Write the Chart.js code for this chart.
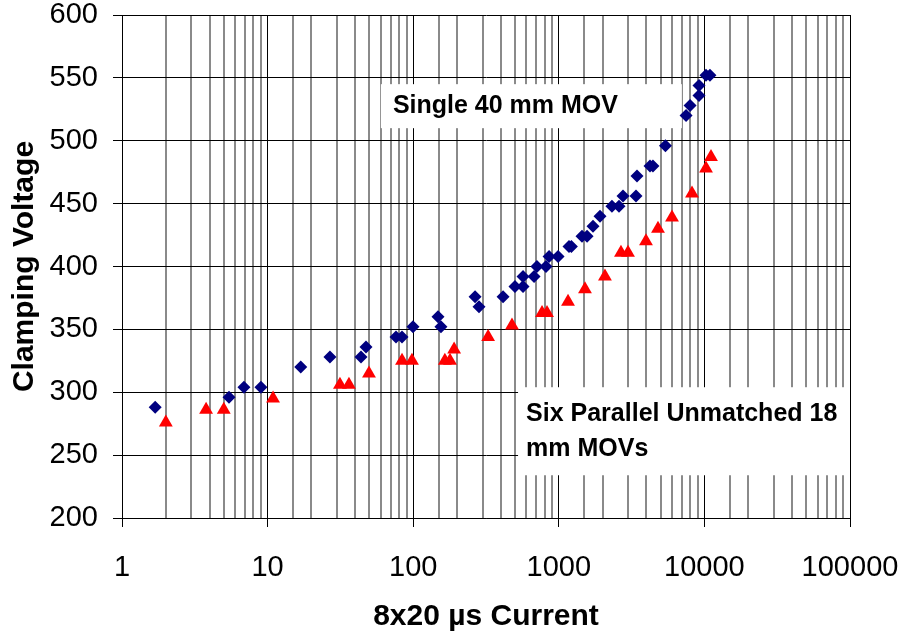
<!DOCTYPE html>
<html>
<head>
<meta charset="utf-8">
<script src="https://cdn.jsdelivr.net/npm/chart.js@4.4.1/dist/chart.umd.min.js"></script>
<style>
  body { margin: 0; background: #fff; }
  canvas { display: block; }
</style>
</head>
<body>
<canvas id="mov-chart" width="903" height="633"></canvas>
<script>
// current (A) and clamping voltage (V)
var singleCurrent = [1.69, 5.43, 6.88, 9.0, 16.9, 26.8, 43.8, 47.4, 76.2, 83.8, 99.7, 148, 155,
    266, 283, 414, 500, 568, 568, 676, 708, 817, 857, 988, 1175, 1220, 1443, 1563, 1718, 1918,
    2318, 2590, 2761, 3390, 3444, 4230, 4430, 5400, 7480, 7970, 9180, 9180, 10260, 10920];
var singleVoltage = [288, 296, 304, 304, 320, 328, 328, 336, 344, 344, 352, 360, 352,
    376, 368, 376, 384, 384, 392, 392, 400, 400, 408, 408, 416, 416, 424, 424, 432, 440,
    448, 448, 456, 456, 472, 480, 480, 496, 520, 528, 536, 544, 552, 552];

var sixCurrent = [2.0, 3.78, 5.0, 10.9, 31.4, 36.2, 49.7, 83.8, 98.1, 165, 179, 191, 327, 477,
    767, 830, 1157, 1513, 2075, 2673, 2987, 3970, 4800, 5990, 8220, 10260, 11100];
var sixVoltage = [276, 286, 286, 295, 306, 306, 315, 325, 325, 325, 325, 334, 344, 353,
    363, 363, 372, 382, 392, 411, 411, 420, 430, 439, 458, 478, 487];

var xTicks = [1, 10, 100, 1000, 10000, 100000];

function toPoints(xs, ys) {
    return xs.map(function (x, i) { return { x: x, y: ys[i] }; });
}

function isDecade(v) {
    return xTicks.indexOf(v) !== -1;
}

// white text boxes that sit over the grid
var notes = {
    id: 'notes',
    beforeDatasetsDraw: function (chart) {
        var ctx = chart.ctx, sx = chart.scales.x, sy = chart.scales.y;
        var boxes = [
            { x0: 60, x1: 7000, y0: 545, y1: 510, lines: ['Single 40 mm MOV'], dx: 12, dy: 29 },
            { x0: 525, x1: 100000, y0: 304, y1: 234, lines: ['Six Parallel Unmatched 18', 'mm MOVs'], dx: 8, dy: 34 }
        ];
        ctx.save();
        boxes.forEach(function (b) {
            var l = sx.getPixelForValue(b.x0), r = sx.getPixelForValue(b.x1);
            var t = sy.getPixelForValue(b.y0), btm = sy.getPixelForValue(b.y1);
            ctx.fillStyle = '#fff';
            ctx.fillRect(l, t, r - l, btm - t);
            ctx.fillStyle = '#000';
            ctx.font = 'bold 25px "Liberation Sans", Arial, sans-serif';
            ctx.textBaseline = 'alphabetic';
            b.lines.forEach(function (s, i) {
                ctx.fillText(s, l + b.dx, t + b.dy + i * 35);
            });
        });
        ctx.restore();
    }
};

new Chart(document.getElementById('mov-chart'), {
    type: 'scatter',
    data: {
        datasets: [{
            label: 'Single 40 mm MOV',
            data: toPoints(singleCurrent, singleVoltage),
            pointStyle: 'rectRot',
            pointRadius: 6.5,
            backgroundColor: '#000080',
            borderColor: '#000080',
            borderWidth: 0
        }, {
            label: 'Six Parallel Unmatched 18 mm MOVs',
            data: toPoints(sixCurrent, sixVoltage),
            pointStyle: 'triangle',
            pointRadius: 8,
            backgroundColor: '#ff0000',
            borderColor: '#ff0000',
            borderWidth: 0
        }]
    },
    options: {
        responsive: false,
        devicePixelRatio: 1,
        animation: false,
        layout: { padding: { top: 15, right: 53, left: 0, bottom: 0 } },
        plugins: {
            legend: { display: false },
            tooltip: { enabled: false }
        },
        scales: {
            x: {
                type: 'logarithmic',
                min: 1,
                max: 100000,
                afterFit: function (scale) {
                    scale.height = 115;
                    scale.paddingLeft = 0;
                    scale.paddingRight = 0;
                },
                grid: {
                    color: function (c) { return c.tick && isDecade(c.tick.value) ? '#000' : '#8a8a8a'; },
                    lineWidth: function (c) { return c.tick && isDecade(c.tick.value) ? 1 : 2; },
                    tickColor: function (c) { return c.tick && isDecade(c.tick.value) ? '#000' : 'rgba(0,0,0,0)'; },
                    tickLength: 9
                },
                border: { color: '#000' },
                ticks: {
                    autoSkip: false,
                    maxRotation: 0,
                    padding: 24,
                    color: '#000',
                    font: { family: '"Liberation Sans", Arial, sans-serif', size: 29 },
                    callback: function (v) { return isDecade(v) ? String(v) : ''; }
                },
                title: {
                    display: true,
                    text: '8x20 µs Current',
                    color: '#000',
                    font: { family: '"Liberation Sans", Arial, sans-serif', size: 30, weight: 'bold', lineHeight: 1.1 },
                    padding: { top: 0, bottom: 0 }
                }
            },
            y: {
                min: 200,
                max: 600,
                afterFit: function (scale) {
                    scale.width = 122;
                    scale.paddingTop = 0;
                    scale.paddingBottom = 0;
                },
                grid: { color: '#000', tickColor: '#000', tickLength: 9, lineWidth: 1 },
                border: { color: '#000' },
                ticks: {
                    stepSize: 50,
                    padding: 15,
                    color: '#000',
                    font: { family: '"Liberation Sans", Arial, sans-serif', size: 29 }
                },
                title: {
                    display: true,
                    text: 'Clamping Voltage',
                    color: '#000',
                    font: { family: '"Liberation Sans", Arial, sans-serif', size: 30, weight: 'bold' },
                    padding: { top: 7, bottom: 0 }
                }
            }
        }
    },
    plugins: [notes]
});
</script>
</body>
</html>
